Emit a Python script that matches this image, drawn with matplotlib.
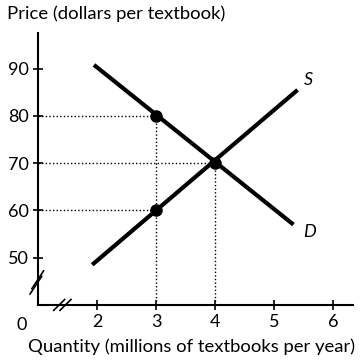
import matplotlib
matplotlib.use("Agg")
import matplotlib.pyplot as plt

plt.rcParams['font.family'] = ['Lato', 'DejaVu Sans']

# curve endpoints
demand_q = [1.95, 5.33]
demand_p = [90.8, 57.0]
supply_q = [1.92, 5.4]
supply_p = [48.5, 85.5]

# marked points
point_q = [3, 4, 3]
point_p = [80, 70, 60]

x_ticks = [2, 3, 4, 5, 6]
y_ticks = [50, 60, 70, 80, 90]

fig = plt.figure(figsize=(3.61, 3.60), dpi=100)
ax = fig.add_axes([0.105, 0.153, 0.873, 0.756])
ax.set_xlim(1, 6.34)
ax.set_ylim(40, 97.6)

for s in ['top', 'right']:
    ax.spines[s].set_visible(False)
for s in ['left', 'bottom']:
    ax.spines[s].set_linewidth(1.5)

ax.set_xticks(x_ticks)
ax.set_yticks(y_ticks)
ax.tick_params(direction='inout', length=7, width=1.2, labelsize=13, pad=3)

# dotted guide lines
for q, p in zip(point_q, point_p):
    ax.plot([1, q], [p, p], ls=(0, (1, 1.6)), color='black', lw=1.0)
for q, p in zip(point_q[:2], point_p[:2]):
    ax.plot([q, q], [40, p], ls=(0, (1, 1.6)), color='black', lw=1.0)

ax.plot(demand_q, demand_p, color='black', lw=3, solid_capstyle='butt')
ax.plot(supply_q, supply_p, color='black', lw=3, solid_capstyle='butt')
ax.plot(point_q, point_p, 'o', color='black', ms=8, zorder=5)

ax.text(5.5, 87.6, 'S', fontsize=13, style='italic', ha='left', va='center')
ax.text(5.5, 55.5, 'D', fontsize=13, style='italic', ha='left', va='center')

# axis breaks
for d in [0, 0.02]:
    ax.plot([-0.025 + d * 0.3, 0.012 + d * 0.3], [0.04 + d, 0.105 + d],
            transform=ax.transAxes, color='black', lw=1.2, clip_on=False)
    ax.plot([0.05 + d, 0.085 + d], [-0.02, 0.02],
            transform=ax.transAxes, color='black', lw=1.2, clip_on=False)

ax.text(-0.05, -0.045, '0', transform=ax.transAxes, fontsize=13,
        ha='center', va='top')

fig.text(0.02, 0.962, 'Price (dollars per textbook)', fontsize=13.3,
         ha='left', va='center')
fig.text(0.53, 0.037, 'Quantity (millions of textbooks per year)', fontsize=13.3,
         ha='center', va='center')

fig.savefig('out.png', dpi=100)
